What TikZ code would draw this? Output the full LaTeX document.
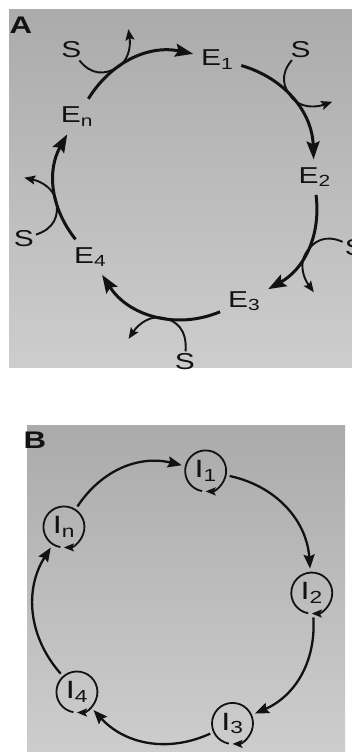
\documentclass[tikz,border=0pt]{standalone}
\usepackage{fontspec}
\setmainfont{Liberation Sans}[FakeStretch=1.3]
\usetikzlibrary{arrows.meta}
\definecolor{panelgray}{HTML}{ABABAB}
\definecolor{panellight}{HTML}{CDCDCD}
\definecolor{ink}{HTML}{121212}

\begin{document}
\begin{tikzpicture}[x=1pt,y=1pt,
    tag/.style={ink,inner sep=0pt,font=\fontsize{24}{26}\selectfont\bfseries},
    ename/.style={ink,inner sep=2pt,outer sep=6pt,font=\fontsize{23}{25}\selectfont},
    sname/.style={ink,inner sep=2pt,font=\fontsize{23}{25}\selectfont},
    iname/.style={ink,circle,minimum size=41pt,inner sep=0pt,outer sep=4pt,font=\fontsize{25}{27}\selectfont},
    ring/.style={ink,line width=3pt,-{Stealth[length=18pt,width=13pt,inset=3pt]}},
    side/.style={ink,line width=1.9pt,-{Stealth[length=11pt,width=9pt,inset=2pt]}},
    link/.style={ink,line width=2.3pt,-{Stealth[length=14pt,width=11pt,inset=2pt]}},
    turn/.style={ink,line width=1.8pt,-{Stealth[length=10pt,width=8pt,inset=2pt]}}]
  \useasboundingbox (0,0) rectangle (352,752);
  \shade[top color=panelgray,bottom color=panellight] (9,384) rectangle (352,742);
  \shade[top color=panelgray,bottom color=panellight] (27,0) rectangle (345,326);
  \node[tag] (labA) at (21,727) {A};
  \node[tag] (labB) at (35,312) {B};

  \begin{scope}[shift={(188,566)}]
    \node[ename] (E1) at (77:130) {E\textsubscript{1}};
    \node[ename] (E2) at (4:127) {E\textsubscript{2}};
    \node[ename] (E3) at (-64:128) {E\textsubscript{3}};
    \node[ename] (E4) at (-144:121) {E\textsubscript{4}};
    \node[ename] (En) at (148:131) {E\textsubscript{n}};
  \end{scope}
  \draw[ring] (En) to[bend left=35] coordinate[pos=.34] (t1) (E1);
  \draw[ring] (E1) to[bend left=36] coordinate[pos=.48] (t2) (E2);
  \draw[ring] (E2) to[bend left=34] coordinate[pos=.53] (t3) (E3);
  \draw[ring] (E3) to[bend left=40] coordinate[pos=.43] (t4) (E4);
  \draw[ring] (E4) to[bend left=34] coordinate[pos=.37] (t5) (En);
  \foreach \t/\r in {t1/29.5,t2/-49.3,t3/-122.8,t4/-192.6,t5/-261}{
    \begin{scope}[shift={(\t)},rotate=\r]
      \node[sname] (s\t) at (-31,38) {S};
      \draw[side] (s\t) .. controls (-26,6) and (-14,0) .. (0,0)
        .. controls (12,0) and (22,10) .. (29,28);
    \end{scope}
  }

  \begin{scope}[shift={(178,151)}]
    \node[iname] (I1) at (78:133) {I\textsubscript{1}};
    \node[iname] (I2) at (3.4:134) {I\textsubscript{2}};
    \node[iname] (I3) at (-66:134) {I\textsubscript{3}};
    \node[iname] (I4) at (-138:136) {I\textsubscript{4}};
    \node[iname] (In) at (147:136) {I\textsubscript{n}};
  \end{scope}
  \foreach \n in {I1,I2,I3,I4,In}
    \draw[turn] ([shift={(-100:20.5)}]\n.center) arc[start angle=-100,end angle=-450,radius=20.5];
  \draw[link] (In) to[bend left=35] (I1);
  \draw[link] (I1) to[bend left=37] (I2);
  \draw[link] (I2) to[bend left=35] (I3);
  \draw[link] (I3) to[bend left=36] (I4);
  \draw[link] (I4) to[bend left=37] (In);
\end{tikzpicture}
\end{document}
